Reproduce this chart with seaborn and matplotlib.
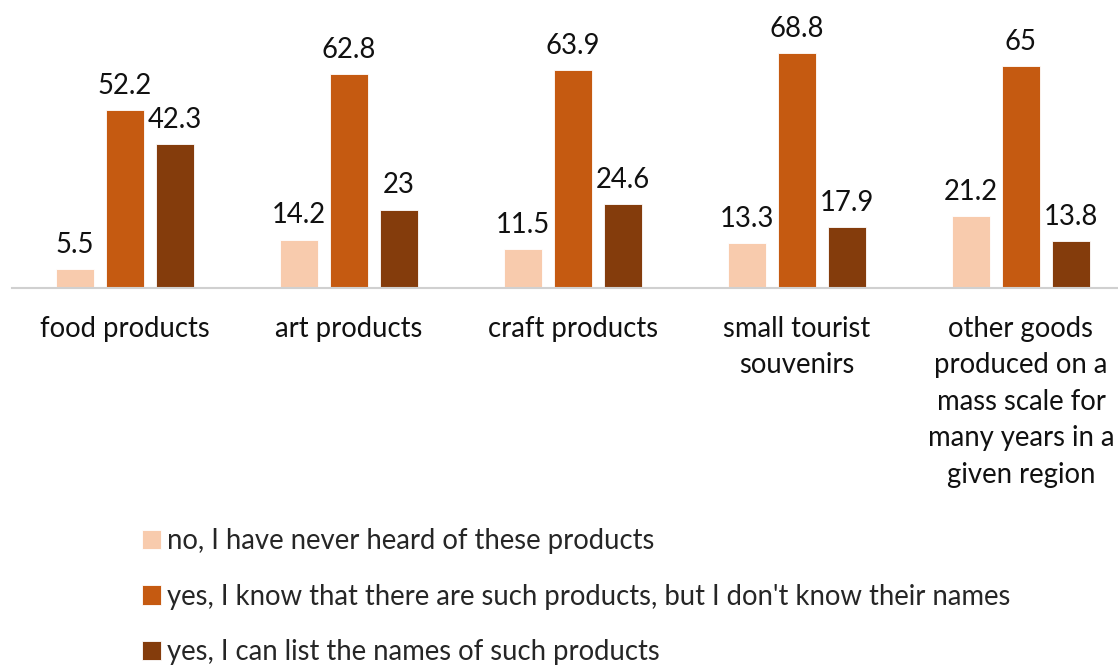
import matplotlib
matplotlib.use("Agg")
import matplotlib.pyplot as plt
import seaborn as sns
import pandas as pd

categories = ["food products", "art products", "craft products",
              "small tourist\nsouvenirs",
              "other goods\nproduced on a\nmass scale for\nmany years in a\ngiven region"]
series_names = ["no, I have never heard of these products",
                "yes, I know that there are such products, but I don't know their names",
                "yes, I can list the names of such products"]
never_heard = [5.5, 14.2, 11.5, 13.3, 21.2]
know_no_names = [52.2, 62.8, 63.9, 68.8, 65]
can_list = [42.3, 23, 24.6, 17.9, 13.8]
label_text = [["5.5", "14.2", "11.5", "13.3", "21.2"],
              ["52.2", "62.8", "63.9", "68.8", "65"],
              ["42.3", "23", "24.6", "17.9", "13.8"]]
colors = ["#F8CBAD", "#C55A11", "#843C0C"]

rows = []
for s, vals in zip(series_names, [never_heard, know_no_names, can_list]):
    for c, v in zip(categories, vals):
        rows.append({"category": c, "series": s, "value": v})
df = pd.DataFrame(rows)

sns.set_theme(style="white")
plt.rcParams['font.family'] = ['Lato', 'DejaVu Sans']

FS = 19.8
fig = plt.figure(figsize=(11.18, 6.67), dpi=100)
W, H = 1118, 667
ax = fig.add_axes([12 / W, (H - 288) / H, (1118 - 12) / W, (288 - 15) / H])

sns.barplot(data=df, x="category", y="value", hue="series", order=categories,
            hue_order=series_names, palette=colors, saturation=1, width=0.67, gap=0.24,
            edgecolor="white", linewidth=0.6, ax=ax, legend=True)

for cont, labs in zip(ax.containers, label_text):
    ax.bar_label(cont, labels=labs, padding=8, fontsize=FS, color="#111111")

ax.set_xlim(-0.504, 4.433)
ax.set_ylim(0, 80)
ax.set_xlabel("")
ax.set_ylabel("")
ax.set_yticks([])
for sp in ["top", "right", "left"]:
    ax.spines[sp].set_visible(False)
ax.spines["bottom"].set_color("#D0D0D0")
ax.spines["bottom"].set_linewidth(1.5)
ax.tick_params(axis="x", length=0, pad=20, labelsize=FS, labelcolor="#111111")
for t in ax.get_xticklabels():
    t.set_linespacing(1.5)
    t.set_verticalalignment("top")

handles, labels = ax.get_legend_handles_labels()
ax.get_legend().remove()
fig.legend(handles, labels, loc="upper left", bbox_to_anchor=(131 / W, (H - 517) / H),
           frameon=False, fontsize=FS, ncol=1, handlelength=0.7, handleheight=0.7,
           handletextpad=0.2, labelspacing=1.08, borderaxespad=0)

fig.savefig("out.png", dpi=100)
